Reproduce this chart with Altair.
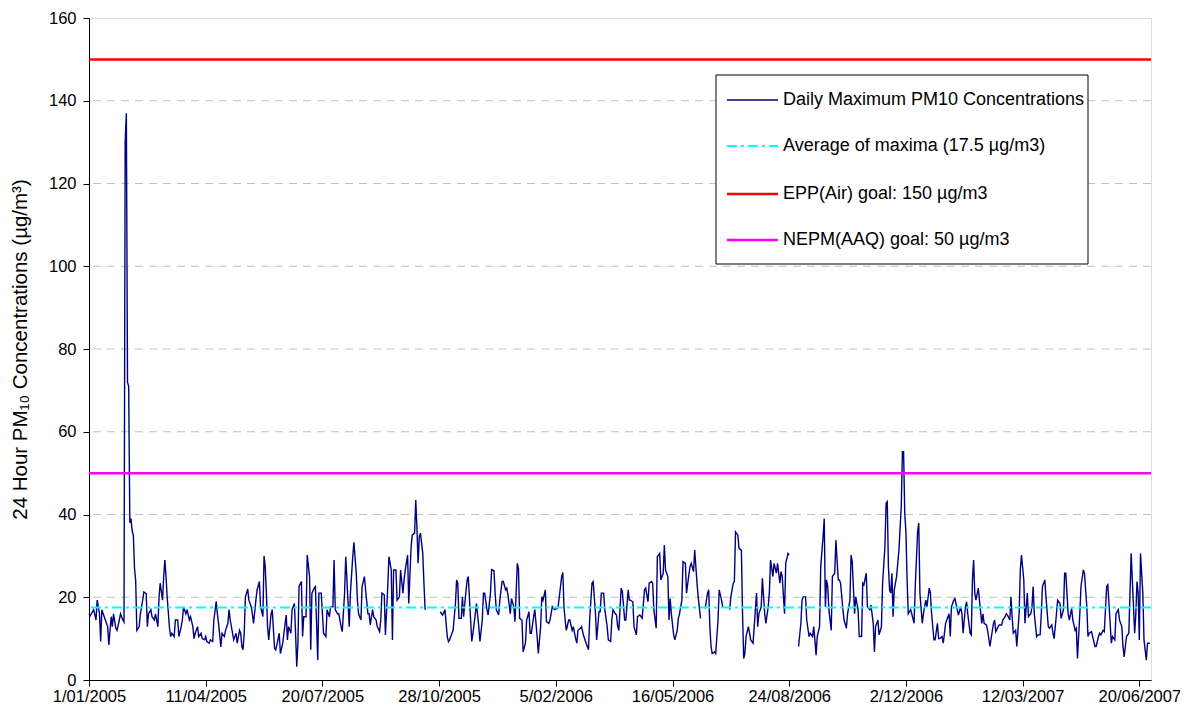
import altair as alt
import pandas as pd

START = "2005-01-01"

# Daily maximum PM10 (day offset from 1/01/2005, value in µg/m3), split where the record has gaps
seg1_days = [0,1,4,6,7,9,10,11,14,16,17,19,20,21,23,24,26,27,29,30,31,32,33,34,35,36,37,38,39,40,41,43,44,46,47,49,50,51,53,54,56,57,59,60,61,63,64,65,66,67,69,70,71,73,74,76,77,79,80,81,83,84,86,87,89,90,91,93,94,96,97,99,100,101,103,104,106,107,109,110,111,113,114,116,117,119,120,121,123,124,126,127,129,130,131,132,133,134,136,137,139,140,141,143,144,146,147,149,
             150,151,152,153,154,156,157,159,160,161,163,164,166,167,169,170,171,173,174,176,177,178,179,180,182,183,184,186,187,189,190,191,193,194,196,197,199,200,201,203,204,206,207,209,210,211,213,214,216,217,219,220,221,223,224,226,227,229,230,231,233,234,236,237,239,240,241,243,244,246,247,249,250,251,253,254,256,257,259,260,261,263,264,266,267,269,270,271,273,274,276,277,279,280,281,282,283,284,286,287,288]
seg1_vals = [16,15.5,17,14.5,19.3,16,9.3,17,14.5,12.9,8.5,15.3,12.9,16,12.5,12,14.5,16,14.5,14,130,137,72,71,38,39,36,35,27,24,12,12.9,16,19.3,21.3,20.9,12.9,16,17,15.3,14.5,16,12.9,20,23.4,19.3,25,29,25,20,12.5,10.5,11.3,10.5,14.5,14.5,10.5,12.9,14.5,17.7,16,17,14.5,15.3,12.9,10,11.3,12.9,10.5,11.3,10,9.7,10.5,9.3,8.9,9.7,9.3,14.5,19,16,13.7,8,11.3,10.5,12,13.7,17,14.5,11.3,9.7,11.3,8.9,12,11.3,8,7.3,11.3,20,22,19.3,17.7,16,13.7,19.3,21.7,23.8,17.7,15.3,
             30,27.4,21,12.9,9.7,16,17,7.7,7.3,8.5,11.3,6.4,8.9,11.3,15.7,9.7,12.9,11.3,17,18.5,11.3,3.2,8.9,22.6,23.8,10.5,15.3,15.3,30.2,25,7.3,21,22.2,22.6,4.8,21,21,16,11.3,10.5,17,15.3,17.7,17.7,29,17,16,16,12.9,11.7,21,29.8,24.2,12.9,21,29.8,33.3,25.8,19.3,16,14.5,22.6,25,21.8,16,16,13.3,17,15.3,14.5,12.9,11.7,14.5,21,20.6,10.9,22.6,29.8,26.6,9.7,26.6,26.6,19.3,20.1,26.6,21,24.2,26.6,30.2,18.5,32.2,35,35.5,43.5,36.7,28.2,34.6,35.5,30.6,23.4,17]

seg2_days = [301,303,305,307,308,309,311,312,314,315,316,317,319,320,321,322,324,325,327,328,329,331,332,334,335,337,338,339,341,342,344,345,347,348,349,351,352,354,355,357,358,359,361,362,364,365,367,368,369,371,372,374,375,377,378,379,381,382,384,385,387,388,389,391,392,394,395,397,398,399,401,402,404,405,406,407,408,409,411,412,414,415,417,418,419,421,422,424,427,428,429,431,432,434,435,437,438,439,441,442,444,445,447,448,449,451,452,
             453,454,456,457,459,460,462,463,464,466,467,469,470,472,473,474,476,477,479,480,482,483,484,486,487,489,490,492,493,494,496,497,498,499,501,502,504,505,506,508,509,511,512,514,515,516,518,519,521,522,524]
seg2_vals = [16.5,15.7,17,10.5,9.3,9.7,11.3,12,18.5,24.2,23.4,14.9,14.9,20.1,15.3,18.5,24.2,25,14.5,9.3,11.3,16,18.5,12.9,9.3,14.5,21,21,17,15.7,21,26.7,26.4,21,17,15.7,19.3,23.8,23.8,21.8,22.2,20.5,16,19.7,17.7,14.1,28.2,27,14.9,14.5,6.8,8.9,14.5,16.5,11.3,11.3,15.3,17,10.5,6.4,12.9,20.1,19.3,21.8,14.1,13.7,14.5,17.7,17.3,17,17.3,17.7,22.6,25,26,17.7,14.5,12,14.5,14.5,12,12.9,10,8.9,12,12.5,12.9,10.5,8.1,7.3,14.5,23.4,23.8,16,9.7,16.5,16.5,21,21,17,12.9,9.7,9.3,14.5,17,16,15.7,
             12.9,12,22.2,21.4,14.5,14.5,21.8,19.3,19.3,18.9,12.9,10.9,15.3,15.7,15.3,14.9,21.8,22.2,18.9,23.4,23.8,23.4,17,12.5,29.8,30.6,24.2,25.8,32.6,26.6,25,14.5,19.7,16,10.9,9.7,12,14.9,16,19.3,28.6,28.2,21,25.4,27.4,28.2,26.2,31.4,23.4,20.1,14.9]

seg3_days = [528,530,531,532,533,534,536,537,539,540,542,543]
seg3_vals = [17.3,21,21.8,12.9,8.1,6.4,6.8,6.4,14.5,21.8,19.3,17.7]

seg4_days = [549,550,552,553,554,556,557,559,560,561,562,563,565,566,567,569,570,572,573,574,576,577,579,580,582,583,584,586,587,589,590,592,593,594,596,597,599,600]
seg4_vals = [17,20.1,23.4,23.8,35.8,35,31.8,31.4,16,5.2,6.4,10.5,12.9,11.3,9.7,8.9,12.9,21,12.9,16,17.7,24.6,16,13.7,17.7,21.3,29,25,28.2,25.8,28.2,23.4,26.2,25,16,28.2,30.6,30.2]

seg5_days = [608,610,611,612,614,615,617,618,620,621,622,623,624,626,627,629,630,631,632,633,634,636,637,639,640,642,643,644,646,647,649,650,652,653,654,656,657,659,660,662,663,664,666,667,669,670,672,673,674,676,677,679,680,682,683,684,685,686,687,688,689,690,692,693,694,696,697,698,699,700,701,702,704,705,707,708,710,711,712,714,715,717,718,720,721,722,724,725,727,728,729,731,732,734,735,737,738,739,741,742,744,745,747,748,749,751,752,
             753,755,756,757,758,759,760,762,763,765,766,767,769,770,772,773,775,776,777,779,780,782,783,785,786,787,789,790,791,792,794,795,797,798,799,801,802,804,805,807,808,809,810,812,813,815,816,817,819,820,822,823,825,826,827,829,830,832,833,835,836,837,839,840,842,843,845,846,847,849,850,852,853,855,856,857,859,860,862,863,865,866,867,869,870,872,873,875,876,877,879,880,882,883,885,886,887,888,889,891,892,893,894,896,897,898,899,900,901,903,904,906,907,909]
seg5_vals = [8.1,13.7,19.3,20.1,20.1,14.5,10.5,11.3,10.5,12.9,9.7,6,10.5,12.9,27.4,34.6,39,17.7,24.2,22.6,17,12,25,25.8,33.8,24.2,24.2,23.4,17,14.5,12.5,16,19.3,30.2,28.6,16,20.1,17,10.5,10.5,23.4,23,25.8,17.7,17,18.1,13.7,6.8,12.9,14.5,10.9,12.9,23.4,32.2,42.7,43.1,27.4,21.8,21,25.8,15.3,21.8,25,28.2,31.4,41.9,55.2,55.2,40.3,35.8,24.2,16,17,16,13.7,22.6,35.8,37.9,21,13.7,16,19.3,17.7,22.2,21,16,9.7,9.7,13.7,10,10,10.5,8.9,13.7,14.5,16,10.5,17.7,19.3,19.7,17,15.7,17.7,16,11.3,17.7,18.9,
             16,11.3,10.9,24.2,29,21,19.3,22.2,19.3,13.7,16,13.7,13.3,12,8.1,10,13.7,14.5,11.7,12.9,13.3,13.3,14.5,15.3,16,15.7,14.5,20.1,15.3,11.3,12,8.1,16,26.6,30.2,24.2,13.7,21,15.3,16,17.7,22.6,16,10.5,10.9,10.9,16,22.6,24.2,20.1,12.9,12.5,13.3,11.3,10,16,19.3,18.5,14.9,17,25.8,25.8,16,14.5,17.3,14.5,12,12.5,5.2,16,22.6,26.6,25.8,17.7,10.5,11.3,11.7,10.5,8.1,8.1,10.5,11.3,10.9,12,11.7,22.6,23,13.7,8.9,10.5,9.7,16,17,14.5,12.9,8.1,5.6,8.1,10.5,11.3,21,30.6,24.2,11.3,16,23.8,21,9.7,30.6,21,9.7,4.8,8.9,8.9]

average_value = 17.5
epp_goal = 150
nepm_goal = 50

legend_labels = ["Daily Maximum PM10 Concentrations",
                 "Average of maxima (17.5 µg/m3)",
                 "EPP(Air) goal: 150 µg/m3",
                 "NEPM(AAQ) goal: 50 µg/m3"]

tick_dates = [(2005, 1, 1), (2005, 4, 11), (2005, 7, 20), (2005, 10, 28), (2006, 2, 5),
              (2006, 5, 16), (2006, 8, 24), (2006, 12, 2), (2007, 3, 12), (2007, 6, 20)]
y_ticks = [0, 20, 40, 60, 80, 100, 120, 140, 160]
grid_values = [20, 40, 60, 80, 100, 120, 140]

NAVY = "#000080"
CYAN = "#00FFFF"
RED = "#FF0000"
MAGENTA = "#FF00FF"
FONT = "Liberation Sans"

rows = []
base = pd.Timestamp(START)
for seg_id, (ds, vs) in enumerate([(seg1_days, seg1_vals), (seg2_days, seg2_vals),
                                   (seg3_days, seg3_vals), (seg4_days, seg4_vals),
                                   (seg5_days, seg5_vals)]):
    for d, v in zip(ds, vs):
        rows.append({"date": (base + pd.Timedelta(days=d)).strftime("%Y-%m-%d"),
                     "pm10": v, "seg": seg_id})
df = pd.DataFrame(rows)

def dt(y, m, d):
    return alt.DateTime(year=y, month=m, date=d, utc=True)

x_scale = alt.Scale(type="utc", domain=[dt(2005, 1, 1), dt(2007, 6, 30)], nice=False)
y_scale = alt.Scale(domain=[0, 160], nice=False)

x_axis = alt.Axis(values=[dt(*t) for t in tick_dates],
                  labelExpr="utcFormat(datum.value, '%-d/%m/%Y')",
                  title=None, grid=False, labelFontSize=16.5, labelColor="#000", labelPadding=2.5,
                  tickSize=6, tickColor="#000", domainColor="#000", labelFont=FONT,
                  labelOverlap=False, labelFlush=False)
y_axis = alt.Axis(values=y_ticks, title="24 Hour PM₁₀ Concentrations (µg/m³)",
                  titleFontSize=20.5, titleFontWeight="normal", titleColor="#000", titleFont=FONT,
                  titlePadding=18, labelFontSize=16.5, labelColor="#000", labelFont=FONT,
                  labelPadding=7, tickSize=6, tickColor="#000", domainColor="#000", grid=False)

grid = alt.Chart(pd.DataFrame({"g": grid_values})).mark_rule(
    color="#c0c0c0", strokeWidth=1, strokeDash=[8, 6]).encode(
    y=alt.Y("g:Q", scale=y_scale, axis=y_axis))

line = alt.Chart(df).mark_line(color=NAVY, strokeWidth=1.4).encode(
    x=alt.X("date:T", scale=x_scale, axis=x_axis),
    y=alt.Y("pm10:Q", scale=y_scale),
    detail="seg:N",
)

def hrule(value, color, width, dash=None):
    kw = dict(color=color, strokeWidth=width)
    if dash:
        kw["strokeDash"] = dash
    return alt.Chart(pd.DataFrame({"v": [value]})).mark_rule(**kw).encode(
        y=alt.Y("v:Q", scale=y_scale))

avg_rule = hrule(average_value, CYAN, 2, [10, 4, 3, 4])
epp_rule = hrule(epp_goal, RED, 2.5)
nepm_rule = hrule(nepm_goal, MAGENTA, 2.5)

# legend box
legend_box = alt.Chart(pd.DataFrame({"k": [0]})).mark_rect(
    fill="white", stroke="#000", strokeWidth=1).encode(
    x=alt.value(627), x2=alt.value(999), y=alt.value(57), y2=alt.value(246))

legend_styles = [(NAVY, 1.4, None), (CYAN, 2, [10, 4, 3, 4]), (RED, 2.5, None), (MAGENTA, 2.5, None)]
legend_rows_y = [82, 128, 176, 222]
legend_layers = [legend_box]
for label, (col, w, dash), ry in zip(legend_labels, legend_styles, legend_rows_y):
    kw = dict(color=col, strokeWidth=w)
    if dash:
        kw["strokeDash"] = dash
    one = pd.DataFrame({"label": [label]})
    legend_layers.append(alt.Chart(one).mark_rule(**kw).encode(
        x=alt.value(638), x2=alt.value(689), y=alt.value(ry)))
    legend_layers.append(alt.Chart(one).mark_text(
        align="left", baseline="middle", fontSize=18, font=FONT, color="#000").encode(
        x=alt.value(694), y=alt.value(ry), text="label:N"))

chart = alt.layer(grid, line, avg_rule, epp_rule, nepm_rule, *legend_layers).properties(
    width=1062, height=662,
    autosize=alt.AutoSizeParams(type="none"),
    padding={"left": 81, "top": 10, "right": 29, "bottom": 25},
).configure_view(stroke="#000", strokeWidth=1).configure(font=FONT)

chart.save("out.html", embed_options={"renderer": "svg", "actions": False})
